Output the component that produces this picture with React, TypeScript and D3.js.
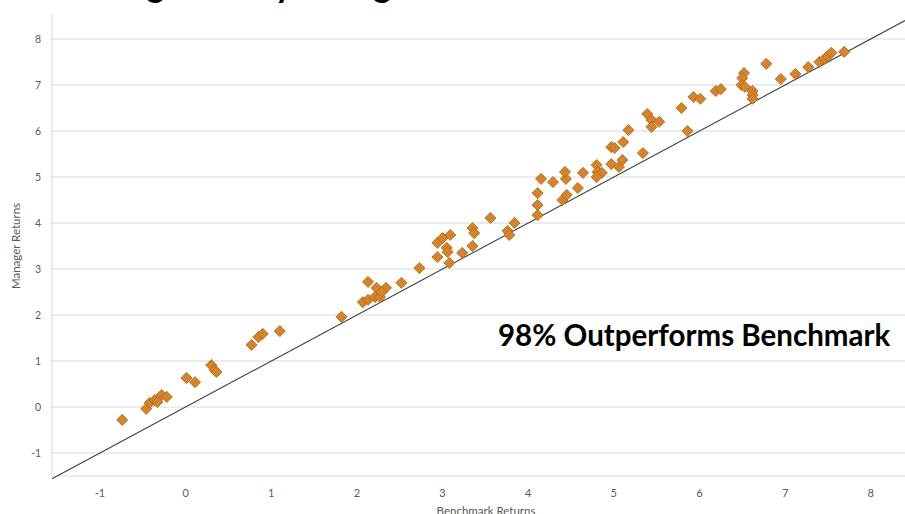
import * as d3 from 'd3'

// values
const benchmarkReturns = [
  -0.74, -0.46, -0.42, -0.36, -0.28, -0.22, -0.33, 0.01, 0.11, 0.3, 0.34, 0.36,
  0.77, 0.85, 0.9, 1.1, 1.82, 2.07, 2.13, 2.13, 2.21, 2.23, 2.27, 2.34, 2.29,
  2.52, 2.73, 2.94, 2.94, 3.0, 3.09, 3.05, 3.06, 3.08, 3.23, 3.35, 3.35, 3.37,
  3.56, 3.76, 3.78, 3.84, 4.11, 4.11, 4.11, 4.15, 4.29, 4.4, 4.45, 4.44, 4.43,
  4.58, 4.64, 4.8, 4.81, 4.86, 4.8, 4.97, 5.06, 5.1, 4.97, 5.01, 5.11, 5.17,
  5.34, 5.39, 5.44, 5.53, 5.44, 5.79, 5.86, 5.93, 6.01, 6.19, 6.25, 6.52, 6.5,
  6.49, 6.53, 6.62, 6.62, 6.62, 6.78, 6.95, 7.12, 7.27, 7.4, 7.46, 7.5, 7.54,
  7.69,
]
const managerReturns = [
  -0.28, -0.04, 0.09, 0.15, 0.26, 0.22, 0.11, 0.63, 0.54, 0.91, 0.8, 0.76,
  1.35, 1.52, 1.59, 1.65, 1.96, 2.28, 2.33, 2.72, 2.39, 2.59, 2.39, 2.59, 2.5,
  2.7, 3.02, 3.26, 3.57, 3.67, 3.74, 3.46, 3.37, 3.13, 3.35, 3.5, 3.89, 3.78,
  4.11, 3.83, 3.74, 4.0, 4.17, 4.39, 4.65, 4.96, 4.89, 4.5, 4.61, 4.96, 5.11,
  4.76, 5.09, 5.26, 5.11, 5.09, 5.0, 5.28, 5.22, 5.37, 5.65, 5.63, 5.76, 6.02,
  5.52, 6.37, 6.24, 6.2, 6.09, 6.5, 6.0, 6.74, 6.7, 6.87, 6.91, 7.26, 7.15,
  7.0, 6.96, 6.87, 6.78, 6.7, 7.46, 7.13, 7.24, 7.39, 7.5, 7.57, 7.63, 7.7,
  7.72,
]
const xTicks = [-1, 0, 1, 2, 3, 4, 5, 6, 7, 8]
const yTicks = [-1, 0, 1, 2, 3, 4, 5, 6, 7, 8]

// title is cropped at the top of the picture, only descenders show
const title = 'Strong Steadily Rising Returns vs. Benchmark'
const callout = '98% Outperforms Benchmark'

const W = 905
const H = 514

export default function App() {
  const x = d3.scaleLinear().domain([-1.56, 8.4]).range([52, W])
  const y = d3.scaleLinear().domain([-1.5, 8.5]).range([476, 16])

  const points = benchmarkReturns.map((b, i) => ({ b, m: managerReturns[i] }))
  const diamond = d3.symbol(d3.symbolSquare, 62)() || undefined
  const line = d3.line<number>()
    .x((d) => x(d))
    .y((d) => y(d))
  const [x0, x1] = x.domain()

  return (
    <svg
      width={W}
      height={H}
      style={{ position: 'absolute', left: 0, top: 0, background: '#fff' }}
      fontFamily="Lato, 'Open Sans', sans-serif"
    >
      <text x={65} y={-3} fontSize={34} fontWeight="bold" fill="#000">
        {title}
      </text>

      {/* gridlines */}
      {yTicks.map((t) => (
        <line key={t} x1={x(x0)} x2={W} y1={y(t)} y2={y(t)} stroke="#d9d9d9" strokeWidth={1} />
      ))}
      <line x1={x(x0)} x2={x(x0)} y1={13} y2={y(-1.5)} stroke="#d9d9d9" />
      <line x1={x(x0)} x2={W} y1={y(-1.5)} y2={y(-1.5)} stroke="#d9d9d9" />

      {/* y ticks */}
      {yTicks.map((t) => (
        <text key={t} x={41} y={y(t)} dy="0.35em" textAnchor="end" fontSize={10.5} fill="#595959">
          {t}
        </text>
      ))}
      {/* x ticks */}
      {xTicks.map((t) => (
        <text key={t} x={x(t)} y={497} textAnchor="middle" fontSize={11} fill="#595959">
          {t}
        </text>
      ))}

      <text
        transform={`translate(20,${(y(8.5) + y(-1.5)) / 2}) rotate(-90)`}
        textAnchor="middle"
        fontSize={11.5}
        fill="#595959"
      >
        Manager Returns
      </text>
      <text x={486} y={515} textAnchor="middle" fontSize={11.5} fill="#595959">
        Benchmark Returns
      </text>

      {/* y = x reference line */}
      <path d={line([x0, x1]) || undefined} stroke="#404040" strokeWidth={1.1} fill="none" />

      {points.map((p, i) => (
        <path
          key={i}
          d={diamond}
          transform={`translate(${x(p.b)},${y(p.m)}) rotate(45)`}
          fill="#d4852c"
          stroke="#ad681f"
          strokeWidth={0.8}
        />
      ))}

      <text x={498} y={346} fontSize={29.5} fontWeight="bold" fill="#000">
        {callout}
      </text>
    </svg>
  )
}
